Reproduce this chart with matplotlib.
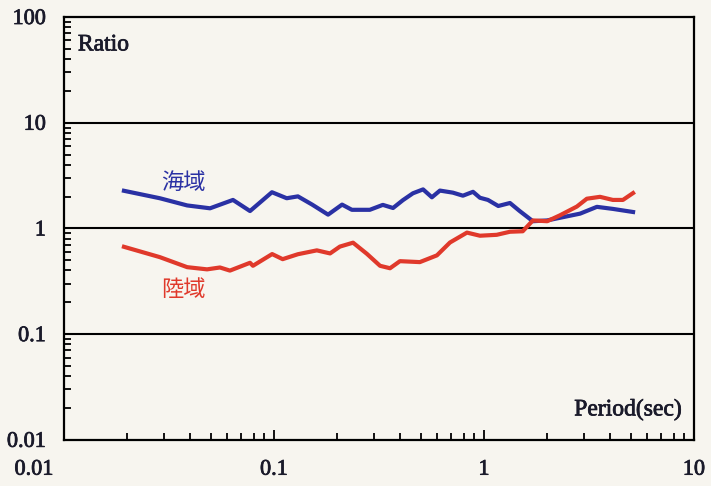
import matplotlib
matplotlib.use("Agg")
import matplotlib.pyplot as plt
import matplotlib.transforms as mtrans
import matplotlib.patheffects as pe
from matplotlib.ticker import LogLocator, FixedLocator, NullFormatter

# 周期 (sec) と比率
period_sea = [0.0193, 0.0286, 0.0386, 0.0496, 0.0638, 0.0769, 0.0978, 0.115, 0.130,
              0.152, 0.181, 0.211, 0.235, 0.286, 0.330, 0.369, 0.411, 0.459, 0.513,
              0.565, 0.617, 0.711, 0.794, 0.887, 0.957, 1.045, 1.17, 1.33, 1.48,
              1.71, 2.0, 2.48, 2.87, 3.45, 4.11, 5.13]
ratio_sea = [2.27, 1.93, 1.65, 1.55, 1.86, 1.46, 2.20, 1.93, 2.01,
             1.68, 1.35, 1.68, 1.50, 1.50, 1.67, 1.56, 1.85, 2.15, 2.34,
             1.97, 2.28, 2.18, 2.04, 2.22, 1.95, 1.86, 1.63, 1.74, 1.46,
             1.17, 1.19, 1.30, 1.38, 1.60, 1.53, 1.43]

period_land = [0.0193, 0.0286, 0.0386, 0.048, 0.0553, 0.0617, 0.0769, 0.0794, 0.098,
               0.110, 0.130, 0.160, 0.185, 0.206, 0.238, 0.277, 0.320, 0.357, 0.398,
               0.495, 0.597, 0.689, 0.83, 0.957, 1.15, 1.33, 1.53, 1.71, 2.0,
               2.30, 2.77, 3.09, 3.57, 4.11, 4.59, 5.13]
ratio_land = [0.67, 0.535, 0.43, 0.41, 0.427, 0.399, 0.473, 0.443, 0.572,
              0.512, 0.570, 0.62, 0.58, 0.673, 0.733, 0.575, 0.443, 0.42, 0.49,
              0.48, 0.556, 0.736, 0.913, 0.853, 0.87, 0.93, 0.94, 1.19, 1.17,
              1.33, 1.61, 1.91, 1.99, 1.86, 1.86, 2.16]

x_ticks = [0.01, 0.1, 1, 10]
x_labels = ["0.01", "0.1", "1", "10"]
y_ticks = [0.01, 0.1, 1, 10, 100]
y_labels = ["0.01", "0.1", "1", "10", "100"]

paper = "#f7f5ef"
blue = "#2a31a4"
red = "#e0392b"
ink = "#1a1a2a"
serif = "Liberation Serif"
cjk = ["Noto Sans CJK JP", "DejaVu Sans"]
fs = 16
heavy = [pe.withStroke(linewidth=0.55, foreground=ink)]

fig = plt.figure(figsize=(7.11, 4.86), dpi=100, facecolor=paper)
ax = fig.add_axes([0.090, 0.095, 0.886, 0.870], facecolor=paper)

ax.set_xscale("log")
ax.set_yscale("log")
ax.set_xlim(0.01, 10)
ax.set_ylim(0.01, 100)

# 横の基準線
for y in y_ticks[1:-1]:
    ax.axhline(y, color="black", lw=1.5, zorder=1)

ax.plot(period_sea, ratio_sea, color=blue, lw=3.0, zorder=3, solid_joinstyle="round")
ax.plot(period_land, ratio_land, color=red, lw=3.0, zorder=3, solid_joinstyle="round")

ax.text(0.037, 2.75, "海域", color=blue, fontsize=16, family=cjk,
        ha="center", va="center")
ax.text(0.037, 0.265, "陸域", color=red, fontsize=16, family=cjk,
        ha="center", va="center")
ax.text(0.022, 0.934, "Ratio", transform=ax.transAxes, fontsize=fs + 1,
        color=ink, family=serif, ha="left", va="center", path_effects=heavy)
ax.text(0.981, 0.071, "Period(sec)", transform=ax.transAxes, fontsize=fs + 1,
        color=ink, family=serif, ha="right", va="center", path_effects=heavy)

for s in ax.spines.values():
    s.set_linewidth(1.6)
    s.set_color("black")

ax.xaxis.set_major_locator(FixedLocator(x_ticks))
ax.yaxis.set_major_locator(FixedLocator(y_ticks))
ax.set_xticklabels(x_labels, family=serif, fontsize=fs, color=ink, path_effects=heavy)
ax.set_yticklabels(y_labels, family=serif, fontsize=fs, color=ink, path_effects=heavy)
ax.xaxis.set_minor_locator(LogLocator(base=10, subs=range(2, 10)))
ax.yaxis.set_minor_locator(LogLocator(base=10, subs=range(2, 10)))
ax.xaxis.set_minor_formatter(NullFormatter())
ax.yaxis.set_minor_formatter(NullFormatter())

ax.tick_params(axis="x", which="major", direction="in", length=7, width=1.3, pad=15)
ax.tick_params(axis="y", which="major", direction="in", length=0, pad=13)
ax.tick_params(which="minor", direction="in", length=5, width=1.3)
ax.tick_params(top=False, right=False, which="both")

# 左端の 0.01 は軸の外側に寄せる
first = ax.get_xticklabels()[0]
first.set_transform(first.get_transform()
                    + mtrans.ScaledTranslation(-30 / 100, 0, fig.dpi_scale_trans))

fig.savefig("out.png", dpi=100, facecolor=paper)
